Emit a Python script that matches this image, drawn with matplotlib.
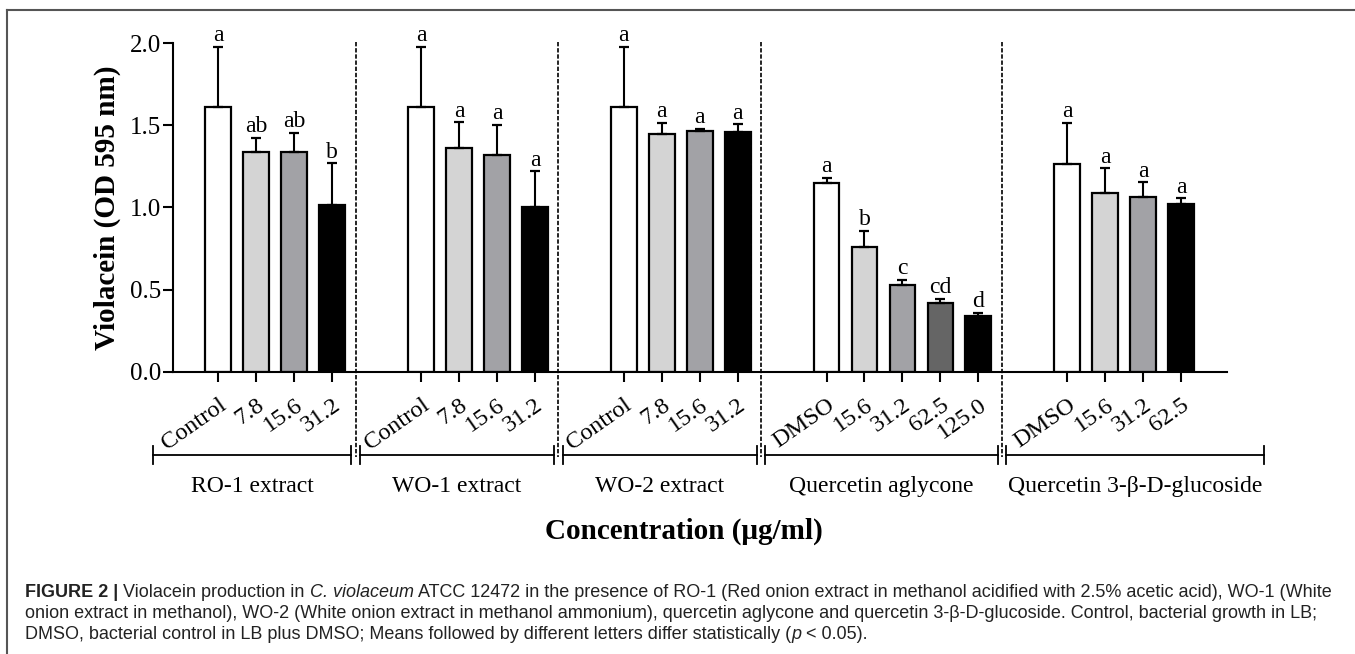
import matplotlib
matplotlib.use("Agg")
import matplotlib.pyplot as plt
import matplotlib.transforms as mtransforms
from matplotlib.lines import Line2D
from matplotlib.ticker import FormatStrFormatter

# ---------------- data ----------------
group_names = ["RO-1 extract", "WO-1 extract", "WO-2 extract",
               "Quercetin aglycone", "Quercetin 3-\u03b2-D-glucoside"]

ro1_labels = ["Control", "7.8", "15.6", "31.2"]
ro1_mean = [1.61, 1.34, 1.335, 1.015]
ro1_err = [0.37, 0.085, 0.12, 0.255]
ro1_letters = ["a", "ab", "ab", "b"]

wo1_labels = ["Control", "7.8", "15.6", "31.2"]
wo1_mean = [1.61, 1.36, 1.32, 1.005]
wo1_err = [0.37, 0.16, 0.185, 0.215]
wo1_letters = ["a", "a", "a", "a"]

wo2_labels = ["Control", "7.8", "15.6", "31.2"]
wo2_mean = [1.61, 1.45, 1.465, 1.46]
wo2_err = [0.37, 0.065, 0.015, 0.048]
wo2_letters = ["a", "a", "a", "a"]

agly_labels = ["DMSO", "15.6", "31.2", "62.5", "125.0"]
agly_mean = [1.147, 0.758, 0.528, 0.42, 0.339]
agly_err = [0.035, 0.10, 0.032, 0.025, 0.02]
agly_letters = ["a", "b", "c", "cd", "d"]

glu_labels = ["DMSO", "15.6", "31.2", "62.5"]
glu_mean = [1.262, 1.09, 1.064, 1.02]
glu_err = [0.255, 0.15, 0.09, 0.035]
glu_letters = ["a", "a", "a", "a"]

caption_lines = [
    [("FIGURE 2 |", "bold"), (" Violacein production in", "normal"), (" C. violaceum", "italic"),
     (" ATCC 12472 in the presence of RO-1 (Red onion extract in methanol acidified with 2.5% acetic acid), WO-1 (White", "normal")],
    [("onion extract in methanol), WO-2 (White onion extract in methanol ammonium), quercetin aglycone and quercetin 3-\u03b2-D-glucoside. Control, bacterial growth in LB;", "normal")],
    [("DMSO, bacterial control in LB plus DMSO; Means followed by different letters differ statistically (", "normal"),
     ("p", "italic"), (" < 0.05).", "normal")],
]

groups = [
    (ro1_labels, ro1_mean, ro1_err, ro1_letters),
    (wo1_labels, wo1_mean, wo1_err, wo1_letters),
    (wo2_labels, wo2_mean, wo2_err, wo2_letters),
    (agly_labels, agly_mean, agly_err, agly_letters),
    (glu_labels, glu_mean, glu_err, glu_letters),
]

colors4 = ["white", "#d4d4d4", "#a2a2a6", "black"]
colors5 = ["white", "#d4d4d4", "#a2a2a6", "#656565", "black"]

# ---------------- layout ----------------
W, H = 1355, 654
SERIF = "Liberation Serif"
SANS = "Liberation Sans"

fig = plt.figure(figsize=(W / 100, H / 100), dpi=100)
fig.patch.set_facecolor("white")

ax_l, ax_r, ax_b, ax_t = 172.7, 1226.7, 371.7, 43.3
ax = fig.add_axes([ax_l / W, 1 - ax_b / H, (ax_r - ax_l) / W, (ax_b - ax_t) / H])

GAP = 2.34   # distance between last bar of a group and first bar of next
positions, heights, errs, letters, labels, colors = [], [], [], [], [], []
group_first, group_last = [], []
x = 0.0
for lab, mean, err, let in groups:
    n = len(mean)
    pos = [x + i for i in range(n)]
    group_first.append(pos[0])
    group_last.append(pos[-1])
    positions += pos
    heights += mean
    errs += err
    letters += let
    labels += lab
    colors += (colors4 if n == 4 else colors5)
    x = pos[-1] + GAP

ax.bar(positions, heights, width=0.68, color=colors, edgecolor="black",
       linewidth=1.6, zorder=2)
ax.errorbar(positions, heights, yerr=[[0] * len(errs), errs], fmt="none",
            ecolor="black", elinewidth=1.5, capsize=3.8, capthick=1.6, zorder=3)

for xp, h, e, t in zip(positions, heights, errs, letters):
    ax.annotate(t, (xp, h + e), xytext=(0, 4), textcoords="offset points",
                ha="center", va="baseline", fontsize=17, family=SERIF)

ax.set_xlim(positions[0] - 1.2, positions[-1] + 1.2)
ax.set_ylim(0, 2.0)
ax.set_yticks([0, 0.5, 1.0, 1.5, 2.0])
ax.yaxis.set_major_formatter(FormatStrFormatter("%.1f"))
ax.set_xticks(positions)
ax.set_xticklabels(labels)
for sp in ["top", "right"]:
    ax.spines[sp].set_visible(False)
for sp in ["left", "bottom"]:
    ax.spines[sp].set_linewidth(1.5)
ax.tick_params(axis="both", direction="out", length=7.2, width=1.5, colors="black")
ax.tick_params(axis="y", pad=1, labelsize=18)
ax.tick_params(axis="x", pad=9, labelsize=17.5)
for t in ax.get_yticklabels():
    t.set_family(SERIF)
for t in ax.get_xticklabels():
    t.set_family(SERIF)
    t.set_rotation(35)
    t.set_ha("right")
    t.set_va("top")
    t.set_rotation_mode("anchor")

# separators, brackets and group labels
blend = mtransforms.blended_transform_factory(ax.transData, fig.transFigure)
def fy(py):
    return 1 - py / H

seps = [group_last[i] + 0.62 for i in range(len(groups) - 1)]
for s in seps:
    fig.add_artist(Line2D([s, s], [fy(41.7), fy(457)], transform=blend, color="black",
                          lw=1.2, linestyle=(0, (2.6, 1.1))))

br_left = [group_first[0] - 1.727] + [s + 0.113 for s in seps]
br_right = [s - 0.113 for s in seps] + [group_last[-1] + 2.18]
for name, l, r in zip(group_names, br_left, br_right):
    fig.add_artist(Line2D([l, r], [fy(455), fy(455)], transform=blend, color="black", lw=1.3))
    for xe in (l, r):
        fig.add_artist(Line2D([xe, xe], [fy(446), fy(464)], transform=blend, color="black", lw=1.3))
    fig.text((l + r) / 2, fy(492), name, transform=blend, ha="center", va="baseline",
             fontsize=17, family=SERIF)

# axis titles
fig.text(107 / W, fy(207.5), "Violacein (OD 595 nm)", rotation=90, ha="center", va="center",
         fontsize=21, fontweight="bold", family=SERIF)
fig.text(684 / W, fy(539), "Concentration (\u03bcg/ml)", ha="center", va="baseline",
         fontsize=21, fontweight="bold", family=SERIF)

# outer frame
fig.add_artist(Line2D([7.3 / W, 7.3 / W], [0, fy(10)], transform=fig.transFigure, color="#555555", lw=1.5))
fig.add_artist(Line2D([7.3 / W, 1], [fy(10), fy(10)], transform=fig.transFigure, color="#555555", lw=1.5))

# caption (pieces placed sequentially)
renderer = fig.canvas.get_renderer()

def style_kw(st):
    if st == "bold":
        return dict(fontweight="bold")
    if st == "italic":
        return dict(fontstyle="italic")
    return {}

def line_width(pieces, size):
    tot = 0
    for txt, st in pieces:
        t = fig.text(0, 0, txt, fontsize=size, family=SANS, **style_kw(st))
        tot += t.get_window_extent(renderer).width
        t.remove()
    return tot

base = 12
w1 = line_width(caption_lines[0], base)
cap_size = base * (1331 - 25) / w1

for pieces, yb in zip(caption_lines, [597, 618, 639]):
    xp = 25
    for txt, st in pieces:
        t = fig.text(xp / W, fy(yb), txt, fontsize=cap_size, family=SANS, ha="left",
                     va="baseline", color="#222222", **style_kw(st))
        xp += t.get_window_extent(renderer).width

fig.savefig("out.png", dpi=100, facecolor="white")
